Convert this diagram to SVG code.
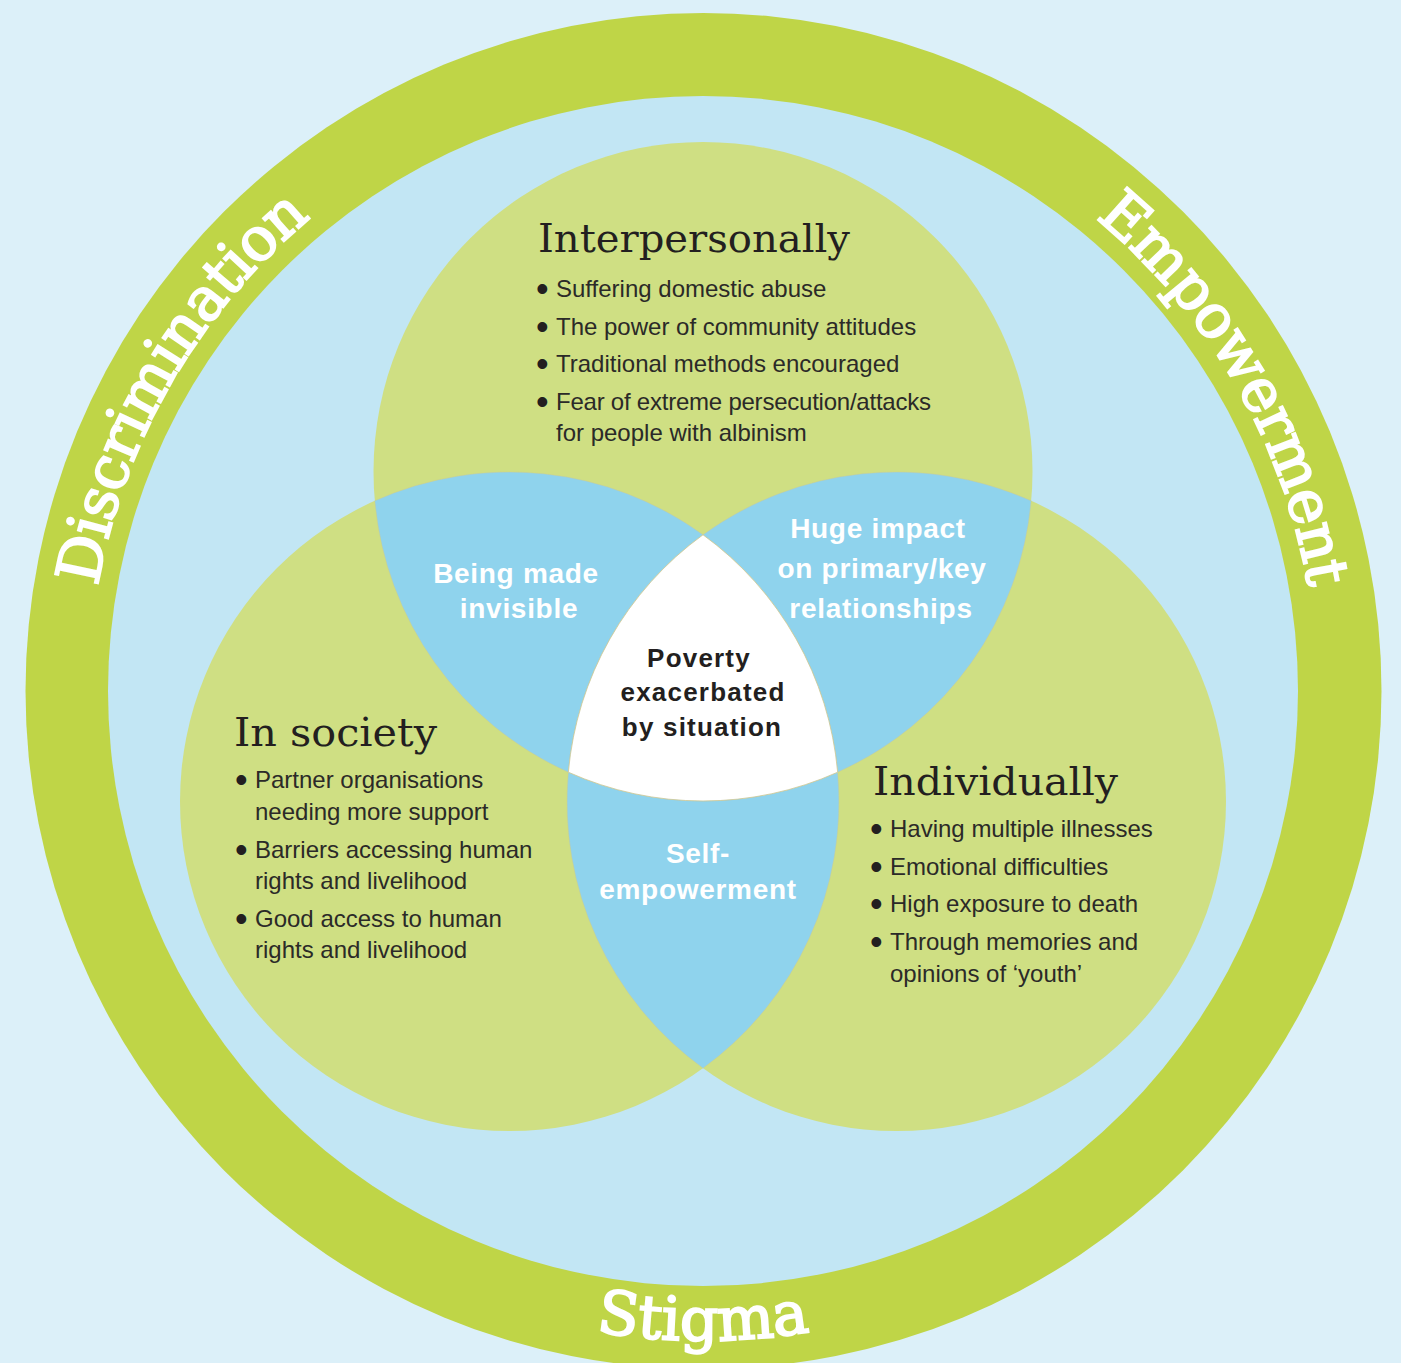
<svg xmlns="http://www.w3.org/2000/svg" width="1401" height="1363" viewBox="0 0 1401 1363">
<style>
.ring-label{font-family:"DejaVu Serif","Liberation Serif",serif;font-size:60px;fill:#ffffff;stroke:#ffffff;stroke-width:2px}
.tight{letter-spacing:-1px}
.title{font-family:"DejaVu Serif","Liberation Serif",serif;font-size:40px;fill:#231f20}
.item{font-family:"Liberation Sans",Arial,sans-serif;font-size:24px;fill:#2b2a28}
.bullet{font-family:"Liberation Sans",Arial,sans-serif;font-size:36px;fill:#231f20}
.lens-label{font-family:"Liberation Sans",Arial,sans-serif;font-size:28px;font-weight:bold;fill:#ffffff;letter-spacing:0.7px;text-anchor:middle}
.core-label{font-family:"Liberation Sans",Arial,sans-serif;font-size:26px;font-weight:bold;fill:#231f20;letter-spacing:1.2px;text-anchor:middle}
.venn{fill:#cfdf83}
.lens{fill:#8fd3ed;stroke:#c9c79b;stroke-width:0.6;stroke-opacity:0.7}
.core{fill:#ffffff;stroke:#c9c79b;stroke-width:0.8}
</style>
<defs>
<path id="arc-disc" d="M 98.3 797.1 A 614 614 0 0 1 493 113.5"/>
<path id="arc-emp" d="M 913 113.5 A 614 614 0 0 1 1307.7 797.1"/>
<path id="arc-stig" d="M 285.2 1188.4 A 650 650 0 0 0 1120.8 1188.4"/>
</defs>
<rect x="0" y="0" width="1401" height="1363" fill="#dcf0f9"/>
<g id="outer-ring">
<circle cx="703.5" cy="691" r="678" fill="#bfd547"/>
<circle cx="703" cy="691" r="595" fill="#c2e6f4"/>
<text class="ring-label tight"><textPath href="#arc-disc" startOffset="50%" text-anchor="middle">Discrimination</textPath></text>
<text class="ring-label tight"><textPath href="#arc-emp" startOffset="50%" text-anchor="middle">Empowerment</textPath></text>
<text class="ring-label"><textPath href="#arc-stig" startOffset="50%" text-anchor="middle">Stigma</textPath></text>
</g>
<g id="node-interpersonally">
<circle class="venn" cx="703" cy="471.5" r="329.5"/>
</g>
<g id="node-society">
<circle class="venn" cx="509.5" cy="801.5" r="329.5"/>
</g>
<g id="node-individually">
<circle class="venn" cx="896.5" cy="801.5" r="329.5"/>
</g>
<g id="overlap-invisible">
<path class="lens" d="M 374.85 500.8 A 329.5 329.5 0 0 1 703 534.8 A 329.5 329.5 0 0 0 568.35 772.2 A 329.5 329.5 0 0 1 374.85 500.8 Z"/>
<text class="lens-label" x="516" y="583">Being made</text>
<text class="lens-label" x="519" y="618">invisible</text>
</g>
<g id="overlap-relationships">
<path class="lens" d="M 1031.15 500.8 A 329.5 329.5 0 0 0 703 534.8 A 329.5 329.5 0 0 1 837.65 772.2 A 329.5 329.5 0 0 0 1031.15 500.8 Z"/>
<text class="lens-label" x="878" y="538">Huge impact</text>
<text class="lens-label" x="882" y="578">on primary/key</text>
<text class="lens-label" x="881" y="618">relationships</text>
</g>
<g id="overlap-selfempowerment">
<path class="lens" d="M 568.35 772.2 A 329.5 329.5 0 0 0 837.65 772.2 A 329.5 329.5 0 0 1 703 1068.2 A 329.5 329.5 0 0 1 568.35 772.2 Z"/>
<text class="lens-label" x="698" y="863">Self-</text>
<text class="lens-label" x="698" y="899">empowerment</text>
</g>
<g id="center-poverty">
<path class="core" d="M 703 534.8 A 329.5 329.5 0 0 0 568.35 772.2 A 329.5 329.5 0 0 0 837.65 772.2 A 329.5 329.5 0 0 0 703 534.8 Z"/>
<text class="core-label" x="699" y="667">Poverty</text>
<text class="core-label" x="703" y="701">exacerbated</text>
<text class="core-label" x="702" y="736">by situation</text>
</g>
<g id="label-interpersonally">
<text class="title" x="538" y="252" textLength="312" lengthAdjust="spacingAndGlyphs">Interpersonally</text>
<text class="bullet" x="536" y="301">•</text><text class="item" x="556" y="297">Suffering domestic abuse</text>
<text class="bullet" x="536" y="339">•</text><text class="item" x="556" y="335">The power of community attitudes</text>
<text class="bullet" x="536" y="376">•</text><text class="item" x="556" y="372">Traditional methods encouraged</text>
<text class="bullet" x="536" y="414">•</text><text class="item" x="556" y="410" textLength="375">Fear of extreme persecution/attacks</text>
<text class="item" x="556" y="441">for people with albinism</text>
</g>
<g id="label-society">
<text class="title" x="234" y="746" textLength="203" lengthAdjust="spacingAndGlyphs">In society</text>
<text class="bullet" x="235" y="792">•</text><text class="item" x="255" y="788">Partner organisations</text>
<text class="item" x="255" y="820">needing more support</text>
<text class="bullet" x="235" y="862">•</text><text class="item" x="255" y="858">Barriers accessing human</text>
<text class="item" x="255" y="889">rights and livelihood</text>
<text class="bullet" x="235" y="931">•</text><text class="item" x="255" y="927">Good access to human</text>
<text class="item" x="255" y="958">rights and livelihood</text>
</g>
<g id="label-individually">
<text class="title" x="873" y="795" textLength="245" lengthAdjust="spacingAndGlyphs">Individually</text>
<text class="bullet" x="870" y="841">•</text><text class="item" x="890" y="837">Having multiple illnesses</text>
<text class="bullet" x="870" y="879">•</text><text class="item" x="890" y="875">Emotional difficulties</text>
<text class="bullet" x="870" y="916">•</text><text class="item" x="890" y="912">High exposure to death</text>
<text class="bullet" x="870" y="954">•</text><text class="item" x="890" y="950">Through memories and</text>
<text class="item" x="890" y="982">opinions of ‘youth’</text>
</g>
<g id="connectors"></g>
</svg>
